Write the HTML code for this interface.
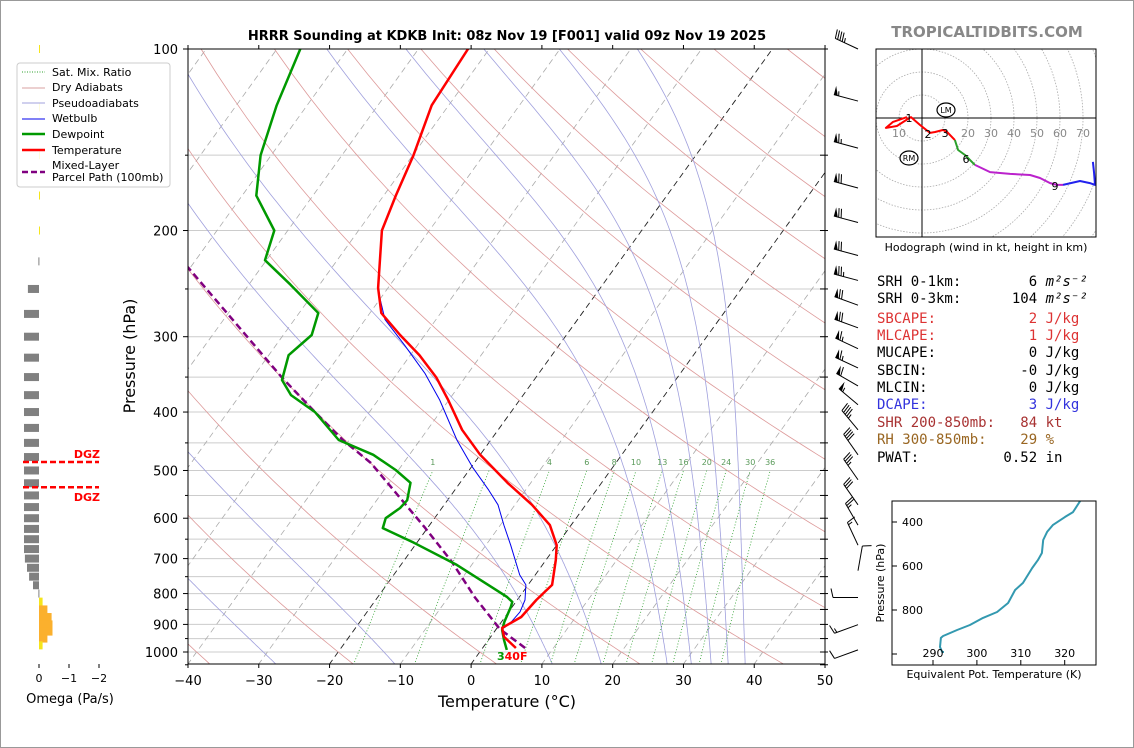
<!DOCTYPE html>
<html><head><meta charset="utf-8">
<style>
html,body{margin:0;padding:0;background:#fff;}
svg{display:block;font-family:"DejaVu Sans","Liberation Sans",sans-serif;}
</style></head>
<body>
<svg id="root" width="1134" height="748" viewBox="0 0 1134 748" xmlns="http://www.w3.org/2000/svg">
<defs>
<clipPath id="plotclip"><rect x="188" y="49" width="637" height="615"/></clipPath>
<clipPath id="hodoclip"><rect x="876" y="49" width="220" height="188"/></clipPath>
<clipPath id="teclip"><rect x="892" y="501" width="204" height="164"/></clipPath>
</defs>
<rect x="0.5" y="0.5" width="1133" height="747" fill="#fff" stroke="#999"/>
<text x="507" y="40" text-anchor="middle" font-size="13" font-weight="bold">HRRR Sounding at KDKB Init: 08z Nov 19 [F001] valid 09z Nov 19 2025</text>
<text x="987" y="37" text-anchor="middle" font-size="15" font-weight="bold" fill="#888">TROPICALTIDBITS.COM</text>
<g id="skew"></g>
<g id="omega"></g>
<g id="barbs"></g>
<g id="hodo"></g>
<g id="te"></g>
<g id="legend">
<rect x="17" y="63" width="153" height="124" rx="3" fill="#fff" fill-opacity="0.85" stroke="#ccc"/>
<line x1="22" y1="72" x2="45" y2="72" stroke="#2ca02c" stroke-dasharray="1,1.5"/>
<text x="52" y="76" font-size="11">Sat. Mix. Ratio</text>
<line x1="22" y1="88" x2="45" y2="88" stroke="#d9a0a0"/>
<text x="52" y="91" font-size="11">Dry Adiabats</text>
<line x1="22" y1="103" x2="45" y2="103" stroke="#a0a0dd"/>
<text x="52" y="107" font-size="11">Pseudoadiabats</text>
<line x1="22" y1="119" x2="45" y2="119" stroke="#0000ee"/>
<text x="52" y="122" font-size="11">Wetbulb</text>
<line x1="22" y1="134" x2="45" y2="134" stroke="#009900" stroke-width="2.5"/>
<text x="52" y="138" font-size="11">Dewpoint</text>
<line x1="22" y1="150" x2="45" y2="150" stroke="#ff0000" stroke-width="2.5"/>
<text x="52" y="154" font-size="11">Temperature</text>
<line x1="22" y1="172" x2="45" y2="172" stroke="#800080" stroke-width="2.5" stroke-dasharray="6,3"/>
<text x="52" y="169" font-size="11">Mixed-Layer</text>
<text x="52" y="181" font-size="11">Parcel Path (100mb)</text>
</g>
<g id="stats" font-family="'DejaVu Sans Mono','Liberation Mono',monospace" font-size="14">
<text x="877" y="286" xml:space="preserve">SRH 0-1km:        6 <tspan font-style="italic">m²s⁻²</tspan></text>
<text x="877" y="303" xml:space="preserve">SRH 0-3km:      104 <tspan font-style="italic">m²s⁻²</tspan></text>
<text x="877" y="323" xml:space="preserve" fill="#dd3333">SBCAPE:           2 J/kg</text>
<text x="877" y="340" xml:space="preserve" fill="#dd3333">MLCAPE:           1 J/kg</text>
<text x="877" y="357" xml:space="preserve">MUCAPE:           0 J/kg</text>
<text x="877" y="375" xml:space="preserve">SBCIN:           -0 J/kg</text>
<text x="877" y="392" xml:space="preserve">MLCIN:            0 J/kg</text>
<text x="877" y="409" xml:space="preserve" fill="#3333dd">DCAPE:            3 J/kg</text>
<text x="877" y="427" xml:space="preserve" fill="#a83232">SHR 200-850mb:   84 kt</text>
<text x="877" y="444" xml:space="preserve" fill="#996622">RH 300-850mb:    29 %</text>
<text x="877" y="462" xml:space="preserve">PWAT:          0.52 in</text>
</g>
</svg>
<script>
// ---------- data ----------
const tempP = [100,124,150,175,200,249,274,298,322,351,382,428,471,524,570,616,665,704,774,820,875,912,944,985];
const tempC = [-63.0,-62.4,-59.9,-58.3,-56.7,-51.4,-48.4,-43.5,-38.7,-34.0,-30.1,-25.1,-20.0,-13.3,-7.6,-3.0,0.0,1.4,3.4,2.7,2.3,0.7,1.9,4.7];
const dewP = [100,124,150,175,200,224,246,274,298,322,354,375,400,445,471,499,524,560,577,600,623,659,717,789,811,826,842,891,919,955,992];
const dewC = [-86.7,-84.3,-81.5,-78.0,-71.9,-70.2,-64.1,-57.3,-56.0,-57.2,-55.6,-52.8,-47.7,-41.5,-35.1,-30.4,-27.0,-25.7,-25.9,-26.9,-26.3,-20.4,-12.1,-4.0,-1.7,-0.5,-0.2,0.4,0.9,2.2,3.6];
const wbP = [251,281,310,345,382,445,494,539,570,616,665,745,774,820,858,891,912];
const wbC = [-51.2,-47.2,-41.8,-36.1,-31.3,-24.8,-19.8,-15.2,-12.4,-9.5,-6.5,-2.2,-0.3,1.1,1.6,1.4,1.0];
const parcelP = [985,916,811,709,623,545,486,445,400,351,230];
const parcelC = [6.0,0.5,-6.3,-13.1,-20.3,-28.0,-34.6,-40.9,-47.7,-55.8,-80.4];
const tempTicks = [-40,-30,-20,-10,0,10,20,30,40,50];
const presTicks = [100,200,300,400,500,600,700,800,900,1000];
const mixRatios = [1,2,4,6,8,10,13,16,20,24,30,36];
const mixLabels = ["1","","4","6","8","10","13","16","20","24","30","36"];
const omegaP = [100,125,150,175,200,225,250,275,300,325,350,375,400,425,450,475,500,525,550,575,600,625,650,675,700,725,750,775,800,825,850,875,900,925,950,975];
const omegaV = [-0.02,-0.02,-0.02,-0.02,-0.03,0.02,0.37,0.5,0.5,0.5,0.5,0.5,0.5,0.5,0.5,0.5,0.5,0.5,0.5,0.5,0.5,0.5,0.5,0.5,0.47,0.4,0.33,0.2,0.02,-0.12,-0.28,-0.42,-0.45,-0.45,-0.28,-0.12];
const omegaTicks = [0,-1,-2];
const dgzP = [484,533];
const barbP = [100,122,146,170,194,220,242,266,290,314,338,362,389,428,471,518,570,616,665,733,812,901,992];
const barbDir = [295,285,285,285,285,285,285,290,290,295,295,300,310,320,325,325,325,330,335,10,270,250,250];
const barbSpd = [45,55,65,70,70,70,75,70,70,65,65,60,55,45,40,35,30,25,15,10,10,15,10];
const hodoU = [-6.5,-12.6,-15.7,-10.9,-6.1,-4.8,-0.9,3.5,5.7,9.1,10.9,14.3,15.7,18.7,20.0,23.0,29.6,38.3,47.0,51.3,55.7,58.7,61.3,68.7,73.0,75.2,74.8,74.3];
const hodoV = [0.4,-1.7,-4.3,-3.5,-0.4,0.4,-3.0,-6.5,-6.1,-5.2,-6.1,-9.6,-13.9,-16.1,-17.4,-20.4,-23.5,-24.3,-24.8,-26.1,-28.3,-29.1,-29.1,-27.4,-28.3,-29.1,-23.5,-19.1];
const hodoSeg = [0,0,0,0,0,0,0,0,0,0,0,1,1,1,1,2,2,2,2,2,2,2,3,3,3,3,3,3];
const hodoMarkIdx = [5,7,10,14,21];
const hodoMarkTxt = ["1","2","3","6","9"];
const hodoRings = [10,20,30,40,50,60,70,80,90];
const thetaE = [323.5,321.9,320.1,317.3,316.0,315.1,314.8,313.9,312.6,310.5,308.7,307.1,304.6,301.4,298.4,295.5,292.3,291.8,291.6,292.1,292.5];
const thetaEP = [305,355,377,414,445,482,541,573,609,677,709,768,809,836,868,891,918,927,968,991,991];
const teXTicks = [290,300,310,320];
const teYTicks = [400,600,800,1000];

// ---------- helpers ----------
const NS = "http://www.w3.org/2000/svg";
function mk(tag, attrs, parent){ const e=document.createElementNS(NS,tag); for(const k in attrs) e.setAttribute(k,attrs[k]); parent.appendChild(e); return e; }
const Y = p => 49 + 603*Math.log10(p/100);
const X = (T,p) => 188 + (T+40)*7.078 + (664 - Y(p))*0.72;
const pathD = pts => pts.map((q,i)=>(i?"L":"M")+q[0].toFixed(1)+","+q[1].toFixed(1)).join("");

const skew = document.getElementById("skew");
const bg = mk("g",{"clip-path":"url(#plotclip)"},skew);



for(let p=100;p<=1050;p+=50){
  const l = mk("line",{x1:188,x2:825,y1:Y(p),y2:Y(p),stroke:"#cccccc","stroke-width":1},bg);
  
  
}
for(let T=-130;T<=50;T+=10){
  const blk = (T===0||T===-20);
  const l = mk("line",{x1:X(T,1050),y1:Y(1050),x2:X(T,100),y2:Y(100),stroke:blk?"#222":"#aaaaaa","stroke-width":blk?0.9:0.8,"stroke-dasharray":"6,4"},bg);
  
  
}
// dry adiabats every 20 C of theta
for(let thc=-100;thc<=220;thc+=20){
  const th=thc+273.15;
  const pts=[]; for(let p=1050;p>=100;p-=10){ pts.push([X(th*Math.pow(p/1000,0.286)-273.15,p),Y(p)]); }
  const l = mk("path",{d:pathD(pts),fill:"none",stroke:"#dd9a9a","stroke-width":0.8},bg);
  
  
}
function es(Tc){return 6.112*Math.exp(17.67*Tc/(Tc+243.5));}
function moistStep(T,p,dp){
  const Rd=287,Cp=1005,Lv=2.5e6,eps=0.622;
  const e=es(T-273.15), rs=eps*e/(p-e);
  const g=(Rd*T+Lv*rs)/(p*(Cp+Lv*Lv*rs*eps/(Rd*T*T)));
  return T+g*dp;
}
for(const T0 of [-27.4,-10.6,11.6,18.5,27.8,31.2,34.0,36.4,38.8]){
  let T=T0+273.15; const pts=[[X(T0,1050),Y(1050)]];
  for(let p=1050;p>100;p-=5){ T=moistStep(T,p,-5); pts.push([X(T-273.15,p-5),Y(p-5)]); }
  const l = mk("path",{d:pathD(pts),fill:"none",stroke:"#a0a0dd","stroke-width":0.8},bg);
  
  
}
mixRatios.forEach((w,i)=>{
  const pts=[];
  for(let p=1050;p>=500;p-=10){ const e=w/1000*p/(0.622+w/1000); const L=Math.log(e/6.112); pts.push([X(243.5*L/(17.67-L),p),Y(p)]); }
  const l = mk("path",{d:pathD(pts),fill:"none",stroke:"#2ca02c","stroke-width":0.8,"stroke-dasharray":"1,2"},bg);
  
  
  if(mixLabels[i]){
    const t = mk("text",{x:pts[pts.length-1][0],y:Y(490),"font-size":8,fill:"#5a9a5a","text-anchor":"middle"},bg);
    t.textContent=mixLabels[i];
    
    
  }
});

const prof = mk("g",{"clip-path":"url(#plotclip)"},skew);


function series(P,C,attrs,name){
  const pts=P.map((p,i)=>[X(C[i],p),Y(p)]);
  const a=Object.assign({d:pathD(pts),fill:"none","stroke-linejoin":"round"},attrs);
  const l=mk("path",a,prof);
  
  
}
series(wbP,wbC,{stroke:"#0000ee","stroke-width":1},"wetbulb-line");
series(parcelP,parcelC,{stroke:"#800080","stroke-width":2.5,"stroke-dasharray":"7,4"},"parcel-path-line");
series(dewP,dewC,{stroke:"#009900","stroke-width":2.5},"dewpoint-line");
series(tempP,tempC,{stroke:"#ff0000","stroke-width":2.5},"temperature-line");
const sfc = mk("text",{x:497,y:660,"font-size":11,"font-weight":"bold"},skew);


sfc.innerHTML='<tspan fill="#009900">3</tspan><tspan fill="#ff0000">40F</tspan>';

const fr = mk("rect",{x:188,y:49,width:637,height:615,fill:"none",stroke:"#000","stroke-width":1},skew);


for(let p=100;p<=1050;p+=50){
  const maj = presTicks.includes(p);
  const t1 = mk("line",{x1:188,x2:maj?183:185,y1:Y(p),y2:Y(p),stroke:"#000"},skew);
  
  
  const t2 = mk("line",{x1:820,x2:828,y1:Y(p),y2:Y(p),stroke:"#000"},skew);
  
  
}
presTicks.forEach(p=>{
  const t = mk("text",{x:178,y:Y(p)+5,"font-size":13,"text-anchor":"end"},skew);
  t.textContent=p;
  
  
});
tempTicks.forEach(T=>{
  const x=188+(T+40)*7.078;
  const a = mk("line",{x1:x,x2:x,y1:664,y2:668,stroke:"#000"},skew);
  
  
  const b = mk("line",{x1:x,x2:x,y1:49,y2:45,stroke:"#000"},skew);
  
  
  const t = mk("text",{x:x,y:685,"font-size":13,"text-anchor":"middle"},skew);
  t.textContent=(T<0?"\u2212"+(-T):T);
  
  
});
const xt = mk("text",{x:507,y:707,"font-size":16,"text-anchor":"middle"},skew);
xt.textContent="Temperature (°C)";


const yt = mk("text",{x:0,y:0,"font-size":16,"text-anchor":"middle",transform:"translate(135,356) rotate(-90)"},skew);
yt.textContent="Pressure (hPa)";



// ---------- omega panel ----------
const om = document.getElementById("omega");
const OX = v => 39 - v*30;
omegaP.forEach((p,i)=>{
  const v=omegaV[i];
  const x0=Math.min(OX(0),OX(v)), w=Math.max(Math.abs(OX(v)-OX(0)),1);
  const col = v>0 ? "#808080" : (v<-0.2 ? "#fbb02d" : "#f5e51b");
  const r = mk("rect",{x:x0,y:Y(p)-4,width:w,height:8,fill:col},om);
  
  
});
dgzP.forEach((p,i)=>{
  const l = mk("line",{x1:23,x2:99,y1:Y(p),y2:Y(p),stroke:"#ff0000","stroke-width":2.5,"stroke-dasharray":"6,3"},om);
  
  
  const t = mk("text",{x:100,y:i===0?Y(p)-4:Y(p)+14,"font-size":11,"font-weight":"bold",fill:"#ff0000","text-anchor":"end"},om);
  t.textContent="DGZ";
  
  
});
omegaTicks.forEach(v=>{
  const l = mk("line",{x1:OX(v),x2:OX(v),y1:664,y2:668,stroke:"#000"},om);
  
  
  const t = mk("text",{x:OX(v),y:682,"font-size":11,"text-anchor":"middle"},om);
  t.textContent=v<0?"\u2212"+(-v):v;
  
  
});
const ot = mk("text",{x:70,y:703,"font-size":13,"text-anchor":"middle"},om);
ot.textContent="Omega (Pa/s)";



// ---------- wind barbs ----------
const bb = document.getElementById("barbs");
barbP.forEach((p,i)=>{
  const d=barbDir[i]*Math.PI/180, s=barbSpd[i];
  const ux=Math.sin(d), uy=-Math.cos(d), nx=-uy, ny=ux;
  const tx=858, ty=Y(p), L=25;
  const ex=tx+ux*L, ey=ty+uy*L;
  const g = mk("g",{},bb);
  
  
  mk("line",{x1:tx,y1:ty,x2:ex,y2:ey,stroke:"#000","stroke-width":1},g);
  let rem=Math.round(s/5)*5, pos=0;
  const pen=Math.floor(rem/50); rem-=pen*50;
  const full=Math.floor(rem/10); rem-=full*10;
  const half=rem>=5;
  for(let k=0;k<pen;k++){
    const ax=ex-ux*pos, ay=ey-uy*pos, bx=ex-ux*(pos+4), by=ey-uy*(pos+4);
    mk("polygon",{points:`${ax},${ay} ${ax+nx*9},${ay+ny*9} ${bx},${by}`,fill:"#000"},g);
    pos+=5;
  }
  for(let k=0;k<full;k++){
    const ax=ex-ux*pos, ay=ey-uy*pos;
    mk("line",{x1:ax,y1:ay,x2:ax+nx*9+ux*2,y2:ay+ny*9+uy*2,stroke:"#000"},g);
    pos+=2.5;
  }
  if(half){
    if(pos===0) pos=2.5;
    const ax=ex-ux*pos, ay=ey-uy*pos;
    mk("line",{x1:ax,y1:ay,x2:ax+nx*4.5+ux,y2:ay+ny*4.5+uy,stroke:"#000"},g);
  }
});

// ---------- hodograph ----------
const hd = document.getElementById("hodo");
const HX = u => 922 + u*2.3, HY = v => 118 - v*2.3;
const hc = mk("g",{"clip-path":"url(#hodoclip)"},hd);


hodoRings.forEach(r=>{
  const c = mk("circle",{cx:922,cy:118,r:r*2.3,fill:"none",stroke:"#aaa","stroke-width":0.8,"stroke-dasharray":"1.5,1.5"},hc);
  
  
});
const hx = mk("line",{x1:876,x2:1096,y1:118,y2:118,stroke:"#000","stroke-width":1},hc);


const hy = mk("line",{x1:922,x2:922,y1:49,y2:237,stroke:"#000","stroke-width":1},hc);


hodoRings.slice(0,7).forEach(r=>{
  const t = mk("text",{x:r===10?899:922+r*2.3,y:137,"font-size":11,fill:"#888","text-anchor":"middle"},hc);
  t.textContent=r;
  
  
});
const segCols=["#ff0000","#2ca02c","#bb22cc","#2222ee"];
for(let sgi=0;sgi<4;sgi++){
  const pts=[];
  hodoU.forEach((u,i)=>{ if(hodoSeg[i]===sgi || (hodoSeg[i]===sgi+1 && hodoSeg[i-1]===sgi)) pts.push([HX(u),HY(hodoV[i])]); });
  const l = mk("path",{d:pathD(pts),fill:"none",stroke:segCols[sgi],"stroke-width":2,"stroke-linejoin":"round"},hc);
  
  
}
hodoMarkIdx.forEach((idx,i)=>{
  const t = mk("text",{x:HX(hodoU[idx])-2,y:HY(hodoV[idx])+5,"font-size":11,"text-anchor":"middle"},hc);
  t.textContent=hodoMarkTxt[i];
  
  
});
[["LM",946,110],["RM",909,158]].forEach(m=>{
  const c = mk("ellipse",{cx:m[1],cy:m[2],rx:9,ry:7,fill:"#fff",stroke:"#000","stroke-width":1.2},hc);
  
  
  const t = mk("text",{x:m[1],y:m[2]+3,"font-size":8,"text-anchor":"middle"},hc);
  t.textContent=m[0];
  
  
});
const hf = mk("rect",{x:876,y:49,width:220,height:188,fill:"none",stroke:"#000"},hd);


const ht = mk("text",{x:986,y:251,"font-size":11,"text-anchor":"middle"},hd);
ht.textContent="Hodograph (wind in kt, height in km)";



// ---------- theta-e panel ----------
const te = document.getElementById("te");
const TX = t => 933 + (t-290)*4.39, TY = p => 522 + (p-400)*0.22;
const tl = mk("path",{d:pathD(thetaE.map((t,i)=>[TX(t),TY(thetaEP[i])])),fill:"none",stroke:"#3399b0","stroke-width":2,"clip-path":"url(#teclip)","stroke-linejoin":"round"},te);


const tf = mk("rect",{x:892,y:501,width:204,height:164,fill:"none",stroke:"#000"},te);


teXTicks.forEach(t=>{
  const l = mk("line",{x1:TX(t),x2:TX(t),y1:665,y2:660,stroke:"#000"},te);
  
  
  const s = mk("text",{x:TX(t),y:657,"font-size":11,"text-anchor":"middle"},te);
  s.textContent=t;
  
  
});
teYTicks.forEach(p=>{
  const l = mk("line",{x1:892,x2:897,y1:TY(p),y2:TY(p),stroke:"#000"},te);
  
  
  if(p<1000){
    const s = mk("text",{x:923,y:TY(p)+4,"font-size":11,"text-anchor":"end"},te);
    s.textContent=p;
    
    
  }
});
const tex = mk("text",{x:994,y:678,"font-size":11,"text-anchor":"middle"},te);
tex.textContent="Equivalent Pot. Temperature (K)";


const tey = mk("text",{x:0,y:0,"font-size":11,"text-anchor":"middle",transform:"translate(884,583) rotate(-90)"},te);
tey.textContent="Pressure (hPa)";


</script>
</body></html>
